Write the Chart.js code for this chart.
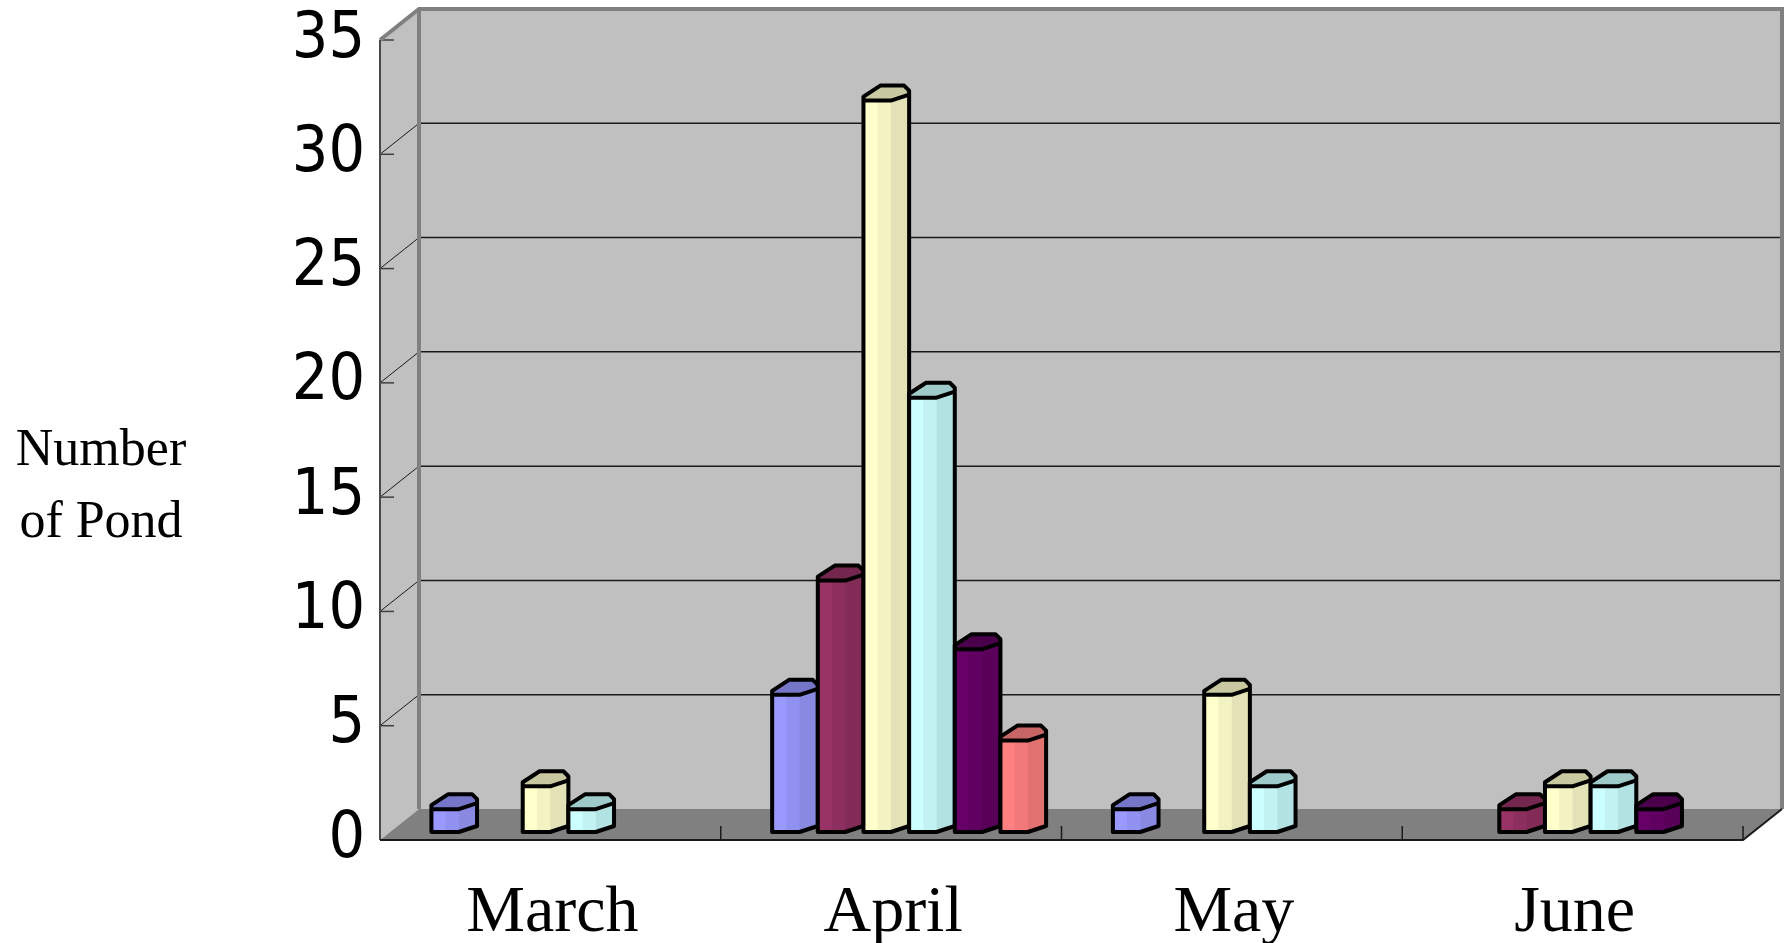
<!DOCTYPE html>
<html><head><meta charset="utf-8">
<script src="https://cdn.jsdelivr.net/npm/chart.js@4/dist/chart.umd.min.js"></script>
<style>html,body{margin:0;padding:0;background:#fff;overflow:hidden}#wrap{width:1788px;height:943px}</style>
</head><body><div id="wrap"><canvas id="c" width="1788" height="943"></canvas></div>
<script>
const categories = ['March', 'April', 'May', 'June'];
const series1 = [1, 6, 1, 0];
const series2 = [0, 11, 0, 1];
const series3 = [2, 32, 6, 2];
const series4 = [1, 19, 2, 2];
const series5 = [0, 8, 0, 1];
const series6 = [0, 4, 0, 0];
const yTicks = [0, 5, 10, 15, 20, 25, 30, 35];
const axisTitle = ['Number', 'of Pond'];

// face colours: [front light, front mid, side, top]
const palette = [
  ['#9999FF', '#9191F1', '#8989E2', '#7676C9'],
  ['#993366', '#8D2F5E', '#812B56', '#74274E'],
  ['#FFFFCC', '#F2F2C2', '#E2E2B6', '#C9C9A1'],
  ['#CCFFFF', '#C2F2F2', '#B3E2E2', '#9FCACA'],
  ['#660066', '#600060', '#590059', '#4B004B'],
  ['#FF8080', '#F27979', '#E27171', '#C86565']
];
const allSeries = [series1, series2, series3, series4, series5, series6];

const DEPTH = {x: 39, y: -31};
const BAR_SHIFT = {x: 18, y: -8};

const wallPlugin = {
  id: 'walls',
  beforeDraw(chart) {
    const ctx = chart.ctx, ca = chart.chartArea, ys = chart.scales.y;
    const y0 = ys.getPixelForValue(0), yTop = ys.getPixelForValue(yTicks[yTicks.length - 1]);
    const bl = ca.left + DEPTH.x, br = ca.right + DEPTH.x;
    ctx.save();
    ctx.fillStyle = '#fff';
    ctx.fillRect(0, 0, chart.width, chart.height);
    ctx.fillStyle = '#C0C0C0';
    ctx.fillRect(bl, yTop + DEPTH.y, br - bl, y0 - yTop);
    ctx.beginPath();
    ctx.moveTo(ca.left, yTop); ctx.lineTo(bl, yTop + DEPTH.y);
    ctx.lineTo(bl, y0 + DEPTH.y); ctx.lineTo(ca.left, y0); ctx.closePath();
    ctx.fill();
    ctx.fillStyle = '#808080';
    ctx.beginPath();
    ctx.moveTo(ca.left, y0); ctx.lineTo(bl, y0 + DEPTH.y);
    ctx.lineTo(br, y0 + DEPTH.y); ctx.lineTo(ca.right, y0); ctx.closePath();
    ctx.fill();
    yTicks.forEach(v => {
      const py = ys.getPixelForValue(v);
      if (v > 0 && v < yTicks[yTicks.length - 1]) {
        ctx.strokeStyle = '#1a1a1a'; ctx.lineWidth = 1.5;
        ctx.beginPath(); ctx.moveTo(bl, py + DEPTH.y); ctx.lineTo(br, py + DEPTH.y); ctx.stroke();
        ctx.lineWidth = 1;
        ctx.beginPath(); ctx.moveTo(ca.left, py); ctx.lineTo(bl, py + DEPTH.y); ctx.stroke();
      }
      ctx.strokeStyle = '#404040'; ctx.lineWidth = 1.5;
      ctx.beginPath(); ctx.moveTo(ca.left, py); ctx.lineTo(ca.left + 14, py); ctx.stroke();
    });
    ctx.strokeStyle = '#808080'; ctx.lineWidth = 4; ctx.lineJoin = 'miter';
    ctx.beginPath();
    ctx.moveTo(ca.left, yTop); ctx.lineTo(bl, yTop + DEPTH.y); ctx.lineTo(br, yTop + DEPTH.y);
    ctx.lineTo(br, y0 + DEPTH.y);
    ctx.stroke();
    ctx.beginPath(); ctx.moveTo(bl, yTop + DEPTH.y); ctx.lineTo(bl, y0 + DEPTH.y); ctx.stroke();
    ctx.strokeStyle = '#4a4a4a'; ctx.lineWidth = 2;
    ctx.beginPath(); ctx.moveTo(ca.left, yTop); ctx.lineTo(ca.left, y0); ctx.stroke();
    ctx.strokeStyle = '#1a1a1a'; ctx.lineWidth = 2;
    ctx.beginPath(); ctx.moveTo(ca.left, y0); ctx.lineTo(ca.right, y0); ctx.lineTo(br, y0 + DEPTH.y); ctx.stroke();
    const catW = (ca.right - ca.left) / categories.length;
    ctx.lineWidth = 1.5;
    for (let i = 1; i <= categories.length; i++) {
      const px = ca.left + i * catW;
      ctx.beginPath(); ctx.moveTo(px, y0); ctx.lineTo(px, y0 - 14); ctx.stroke();
    }
    ctx.fillStyle = '#000';
    ctx.font = '52px "Liberation Serif", "Times New Roman", serif';
    ctx.textAlign = 'center'; ctx.textBaseline = 'alphabetic';
    ctx.fillText(axisTitle[0], 101, 465);
    ctx.fillText(axisTitle[1], 101, 537);
    ctx.restore();
  },
  beforeDatasetsDraw(chart) {
    chart.ctx.save();
    chart.ctx.translate(BAR_SHIFT.x, BAR_SHIFT.y);
  },
  afterDatasetsDraw(chart) {
    const ctx = chart.ctx;
    const n = chart.data.datasets.length;
    for (let c = 0; c < categories.length; c++) {
      for (let d = 0; d < n; d++) {
        const el = chart.getDatasetMeta(d).data[c];
        if (!el) continue;
        const L = el.x - el.width / 2, R = el.x + el.width / 2, T = el.y, B = el.base;
        if (Math.abs(B - T) < 0.5) continue;
        const w = R - L, f1 = L + w * 0.31, f2 = L + w * 0.6, s = 6;
        const col = palette[d];
        ctx.fillStyle = '#808080';
        ctx.beginPath(); ctx.moveTo(f2, B); ctx.lineTo(R + 2, B - s); ctx.lineTo(R + 2, B + 2); ctx.lineTo(f2, B + 2); ctx.closePath(); ctx.fill();
        ctx.fillStyle = col[0]; ctx.fillRect(L, T, f1 - L, B - T);
        ctx.fillStyle = col[1]; ctx.fillRect(f1, T, f2 - f1, B - T);
        ctx.fillStyle = col[2];
        ctx.beginPath(); ctx.moveTo(f2, T); ctx.lineTo(R, T - s); ctx.lineTo(R, B - s); ctx.lineTo(f2, B); ctx.closePath(); ctx.fill();
        ctx.fillStyle = col[3];
        ctx.beginPath();
        ctx.moveTo(L, T); ctx.lineTo(L, T - 4); ctx.lineTo(L + w * 0.37, T - 15);
        ctx.lineTo(L + w * 0.89, T - 15); ctx.lineTo(R, T - 10); ctx.lineTo(R, T - s);
        ctx.lineTo(f2, T); ctx.closePath(); ctx.fill();
        ctx.strokeStyle = '#000'; ctx.lineWidth = 4; ctx.lineJoin = 'round';
        ctx.beginPath();
        ctx.moveTo(L, B); ctx.lineTo(L, T - 4); ctx.lineTo(L + w * 0.37, T - 15);
        ctx.lineTo(L + w * 0.89, T - 15); ctx.lineTo(R, T - 10); ctx.lineTo(R, B - s);
        ctx.lineTo(f2, B); ctx.closePath(); ctx.stroke();
        ctx.beginPath(); ctx.moveTo(L, T); ctx.lineTo(f2, T); ctx.lineTo(R, T - s); ctx.stroke();
      }
    }
    ctx.restore();
  },
  afterDraw(chart) {
    const ctx = chart.ctx, xs = chart.scales.x;
    ctx.save();
    ctx.fillStyle = '#000';
    ctx.font = '66px "Liberation Serif", "Times New Roman", serif';
    ctx.textAlign = 'center'; ctx.textBaseline = 'alphabetic';
    categories.forEach((c, i) => ctx.fillText(c, xs.getPixelForValue(i) + 2, 931));
    ctx.restore();
  }
};

const datasets = allSeries.map((s, i) => ({
  label: 'Series ' + (i + 1),
  data: s,
  backgroundColor: palette[i][0],
  borderWidth: 0,
  categoryPercentage: 0.804,
  barPercentage: 1.0
}));

new Chart(document.getElementById('c'), {
  type: 'bar',
  data: {labels: categories, datasets},
  plugins: [wallPlugin],
  options: {
    responsive: false,
    devicePixelRatio: 1,
    animation: false,
    layout: {padding: {top: 40, right: 45, left: 0, bottom: 0}},
    plugins: {legend: {display: false}, tooltip: {enabled: false}},
    scales: {
      y: {
        min: 0, max: 35,
        afterFit(s) { s.width = 380; },
        afterBuildTicks(s) { s.ticks = yTicks.map(v => ({value: v})); },
        ticks: {
          color: '#000', padding: 15,
          font: {family: '"Liberation Sans Narrow", "DejaVu Sans Condensed", "Arial Narrow", sans-serif', size: 64, lineHeight: 0.5}
        },
        grid: {display: false, drawTicks: false},
        border: {display: false}
      },
      x: {
        afterFit(s) { s.height = 103; },
        ticks: {display: false},
        grid: {display: false, drawTicks: false},
        border: {display: false}
      }
    }
  }
});
</script>
</body></html>
